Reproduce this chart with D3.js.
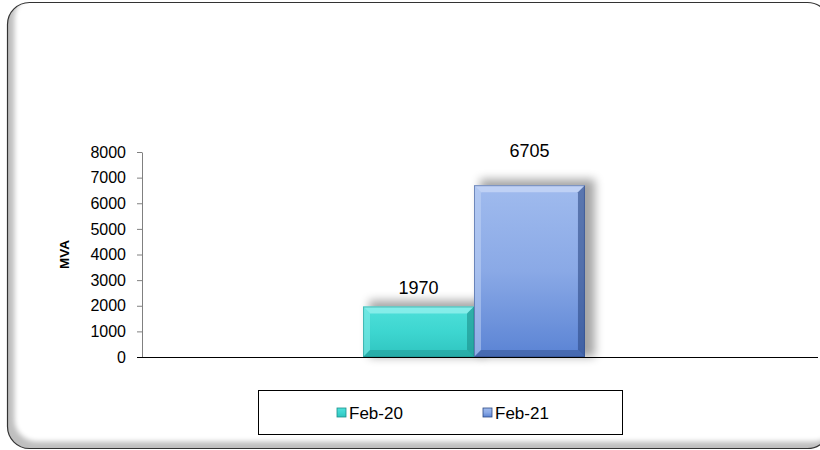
<!DOCTYPE html>
<html><head><meta charset="utf-8">
<script src="https://cdn.jsdelivr.net/npm/d3@7"></script>
<style>body{margin:0;background:#fff}svg{display:block;font-family:"Liberation Sans",Arial,sans-serif}</style>
</head><body><svg id="c" width="820" height="450"></svg>
<script>
const categories = ["Feb-20", "Feb-21"];
const values = [1970, 6705];
const yTicks = [0,1000,2000,3000,4000,5000,6000,7000,8000];
const colors = [
  {top:"#4fe0da", mid:"#3dd6d0", bot:"#2fc4bf", light:"#8ff0ec", dark:"#1c8f8b"},
  {top:"#a0bbee", mid:"#8aa9e6", bot:"#5a83d4", light:"#c4d5f6", dark:"#2d4a85"}
];
const labelDy = [13, 28];

const svg = d3.select("#c");
const defs = svg.append("defs");
const f = defs.append("filter").attr("id","sh").attr("x","-20%").attr("y","-20%").attr("width","150%").attr("height","140%");
f.append("feGaussianBlur").attr("stdDeviation",5);
const fi = defs.append("filter").attr("id","ins").attr("x","-10%").attr("y","-10%").attr("width","120%").attr("height","120%");
fi.append("feGaussianBlur").attr("stdDeviation",2.5);

const FX=7.5, FY=2.5, FW=822, FH=446, FR=22;
defs.append("clipPath").attr("id","fc").append("rect").attr("x",FX).attr("y",FY).attr("width",FW).attr("height",FH).attr("rx",FR);
svg.append("rect").attr("x",FX).attr("y",FY).attr("width",FW).attr("height",FH).attr("rx",FR).attr("fill","#fff");
const sx=FX+7, sy=FY-7;
const rr = (x,y,w,h,r)=>`M${x+r},${y}H${x+w-r}A${r},${r} 0 0 1 ${x+w},${y+r}V${y+h-r}A${r},${r} 0 0 1 ${x+w-r},${y+h}H${x+r}A${r},${r} 0 0 1 ${x},${y+h-r}V${y+r}A${r},${r} 0 0 1 ${x+r},${y}Z`;
svg.append("g").attr("clip-path","url(#fc)").append("path")
  .attr("d",`M-50,-50H900V520H-50Z `+rr(sx,sy,FW,FH,FR)).attr("fill-rule","evenodd")
  .attr("fill","#000").attr("opacity",0.25).attr("filter","url(#ins)");
svg.append("rect").attr("x",FX).attr("y",FY).attr("width",FW).attr("height",FH).attr("rx",FR)
  .attr("fill","none").attr("stroke","#333").attr("stroke-width",1.2);

const x0 = 142, x1 = 806;
const y = d3.scaleLinear().domain([0,8000]).range([357,152]);
const xOuter = d3.scaleBand().domain(["g"]).range([x0,x1]).paddingInner(0).paddingOuter(0.996);
const x = d3.scaleBand().domain(categories).range([xOuter("g"), xOuter("g")+xOuter.bandwidth()]).padding(0);

categories.forEach((c,i)=>{
  const g = defs.append("linearGradient").attr("id","g"+i).attr("x1",0).attr("y1",0).attr("x2",0).attr("y2",1);
  g.append("stop").attr("offset","0%").attr("stop-color",colors[i].top);
  g.append("stop").attr("offset","50%").attr("stop-color",colors[i].mid);
  g.append("stop").attr("offset","100%").attr("stop-color",colors[i].bot);
});

const bars = svg.append("g");
categories.forEach((c,i)=>{
  const bx = x(c), bw = x.bandwidth(), by = y(values[i]), bh = y(0)-y(values[i]);
  bars.append("rect").attr("x",bx+6).attr("y",by-6).attr("width",bw+4).attr("height",bh+6)
    .attr("fill","#000").attr("opacity",0.35).attr("filter","url(#sh)");
});
categories.forEach((c,i)=>{
  const bx = x(c), bw = x.bandwidth(), by = y(values[i]), bh = y(0)-y(values[i]);
  const b = 7;
  const gg = bars.append("g");
  gg.append("rect").attr("x",bx).attr("y",by).attr("width",bw).attr("height",bh).attr("fill",`url(#g${i})`);
  const X0=bx, X1=bx+bw, Y0=by, Y1=by+bh;
  const poly = (pts,fill,op)=>gg.append("polygon").attr("points",pts.map(p=>p.join(",")).join(" ")).attr("fill",fill).attr("opacity",op);
  poly([[X0,Y0],[X1,Y0],[X1-b,Y0+b],[X0+b,Y0+b]], colors[i].light, 0.85);
  poly([[X0,Y0],[X0+b,Y0+b],[X0+b,Y1-b],[X0,Y1]], colors[i].light, 0.5);
  poly([[X1,Y0],[X1,Y1],[X1-b,Y1-b],[X1-b,Y0+b]], colors[i].dark, 0.6);
  poly([[X0,Y1],[X0+b,Y1-b],[X1-b,Y1-b],[X1,Y1]], colors[i].dark, 0.45);
  gg.append("rect").attr("x",X0+0.5).attr("y",Y0+0.5).attr("width",bw-1).attr("height",bh-1).attr("fill","none").attr("stroke",colors[i].dark).attr("stroke-opacity",0.5);
  svg.append("text").attr("x",bx+bw/2).attr("y",by-labelDy[i]).attr("text-anchor","middle")
    .attr("font-size",18).attr("fill","#000").text(values[i]);
});

const ya = svg.append("g").attr("transform",`translate(${x0},0)`)
  .call(d3.axisLeft(y).tickValues(yTicks).tickFormat(d3.format("d")).tickSize(5).tickSizeOuter(0).tickPadding(11));
ya.selectAll("text").attr("font-size",16).attr("fill","#000").attr("font-family","Liberation Sans, Arial, sans-serif");
ya.selectAll("line,path").attr("stroke","#808080");
svg.append("line").attr("x1",x0-5).attr("x2",818).attr("y1",y(0)+0.5).attr("y2",y(0)+0.5).attr("stroke","#000");

svg.append("text").attr("transform",`translate(69,${(y(0)+y(8000))/2}) rotate(-90)`).attr("text-anchor","middle")
  .attr("font-size",13.5).attr("font-weight","bold").text("MVA");

svg.append("rect").attr("x",258.5).attr("y",390.5).attr("width",364).attr("height",44).attr("fill","#fff").attr("stroke","#000");
const lx = [337, 483];
categories.forEach((c,i)=>{
  const g = svg.append("g").attr("transform",`translate(${lx[i]},408)`);
  g.append("rect").attr("width",9).attr("height",9).attr("fill",`url(#g${i})`).attr("stroke",colors[i].dark).attr("stroke-width",0.8);
  g.append("text").attr("x",12).attr("y",11).attr("font-size",17).text(c);
});
</script></body></html>
